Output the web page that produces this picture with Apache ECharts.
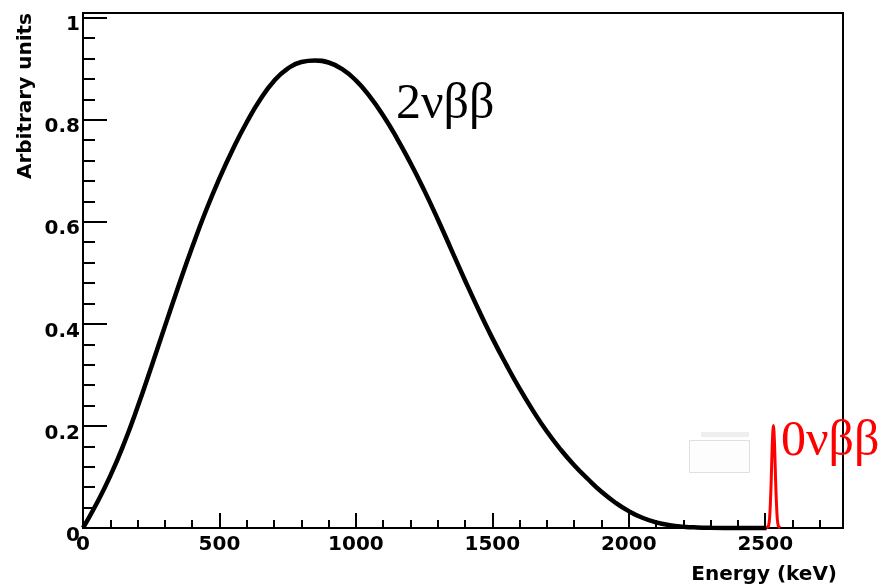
<!DOCTYPE html>
<html><head><meta charset="utf-8">
<script src="https://cdn.jsdelivr.net/npm/echarts@6/dist/echarts.min.js"></script>
<style>html,body{margin:0;padding:0;background:#fff}#c{width:884px;height:588px}</style>
</head><body><div id="c"></div>
<script>
// 2νββ continuous spectrum (energy in keV, arbitrary units)
const energy2nu = [0,50,100,150,200,250,300,350,400,450,500,550,600,650,700,750,800,850,900,950,1000,1050,1100,1150,1200,1250,1300,1350,1400,1450,1500,1550,1600,1650,1700,1750,1800,1850,1900,1950,2000,2050,2100,2150,2200,2250,2300,2400,2505];
const value2nu = [0,0.048,0.102,0.165,0.237,0.315,0.395,0.474,0.550,0.621,0.685,0.743,0.795,0.840,0.876,0.900,0.913,0.916,0.912,0.899,0.877,0.846,0.808,0.764,0.715,0.662,0.605,0.545,0.485,0.427,0.372,0.321,0.273,0.229,0.189,0.154,0.123,0.096,0.071,0.050,0.033,0.020,0.011,0.0055,0.0025,0.001,0.0004,0.00005,0];
// 0νββ peak
const energy0nu = [2505,2512,2516,2519,2522,2525,2528,2530,2532,2535,2538,2541,2544,2548,2555];
const value0nu = [0,0.004,0.02,0.05,0.094,0.15,0.19,0.201,0.19,0.15,0.094,0.05,0.02,0.004,0];
// tick labels
const xTickLabels = [0,500,1000,1500,2000,2500];
const yTickLabels = [0,0.2,0.4,0.6,0.8,1];
const label2nu = '2νββ';
const label0nu = '0νββ';
const xTitle = 'Energy (keV)';
const yTitle = 'Arbitrary units';

const chart = echarts.init(document.getElementById('c'), null, {renderer:'canvas'});
const tickFont = {fontFamily:'DejaVu Sans', fontWeight:'bold', fontSize:20, color:'#000', lineHeight:15};
const option = {
  animation:false,
  backgroundColor:'#fff',
  grid:{left:83,right:41,top:13,bottom:60,show:true,borderColor:'#000',borderWidth:2,backgroundColor:'transparent'},
  xAxis:{type:'value',min:0,max:2785,interval:500,
    axisLine:{show:true,onZero:false,lineStyle:{color:'#000',width:2}},
    axisTick:{show:true,inside:true,length:15,lineStyle:{color:'#000',width:2}},
    minorTick:{show:true,splitNumber:5,length:8,lineStyle:{color:'#000',width:2}},
    splitLine:{show:false},minorSplitLine:{show:false},
    axisLabel:Object.assign({},tickFont,{margin:9,showMaxLabel:false,
      formatter:function(v){const t=xTickLabels.find(x=>Math.abs(x-v)<1e-6);return t===undefined?'':String(t);}})
  },
  yAxis:{type:'value',min:0,max:1.009,interval:0.2,
    axisLine:{show:true,onZero:false,lineStyle:{color:'#000',width:2}},
    axisTick:{show:true,inside:true,length:24,lineStyle:{color:'#000',width:2}},
    minorTick:{show:true,splitNumber:5,length:12,lineStyle:{color:'#000',width:2}},
    splitLine:{show:false},minorSplitLine:{show:false},
    axisLabel:Object.assign({},tickFont,{margin:3,verticalAlign:'top',showMaxLabel:false,
      formatter:function(v){const t=yTickLabels.find(y=>Math.abs(y-v)<1e-6);return t===undefined?'':String(t);}})
  },
  series:[
    {type:'line',data:energy2nu.map((e,i)=>[e,value2nu[i]]),smooth:0.5,showSymbol:false,
     lineStyle:{color:'#000',width:4.5},z:3,clip:false},
    {type:'line',data:energy0nu.map((e,i)=>[e,value0nu[i]]),smooth:0.3,showSymbol:false,
     lineStyle:{color:'#ff0000',width:3},z:4,clip:false}
  ],
  graphic:[
    {type:'rect',shape:{x:701,y:432,width:48,height:5},style:{fill:'#eeeeee'},z:1},
    {type:'rect',shape:{x:689.5,y:440.5,width:60,height:32},style:{fill:'#fdfdfd',stroke:'#e0e0e0',lineWidth:1},z:1},
    {type:'text',x:396,y:105,style:{text:label2nu,font:'50px "Liberation Serif"',fill:'#000',align:'left',verticalAlign:'middle'},z:10},
    {type:'text',x:781,y:442,style:{text:label0nu,font:'50px "Liberation Serif"',fill:'#ff0000',align:'left',verticalAlign:'middle'},z:10},
    {type:'text',x:837,y:575,style:{text:xTitle,font:'bold 20px "DejaVu Sans"',fill:'#000',align:'right',verticalAlign:'middle'},z:10},
    {type:'text',x:26,y:13,rotation:Math.PI/2,style:{text:yTitle,font:'bold 20px "DejaVu Sans"',fill:'#000',align:'right',verticalAlign:'middle'},z:10}
  ]
};
chart.setOption(option);
</script></body></html>
